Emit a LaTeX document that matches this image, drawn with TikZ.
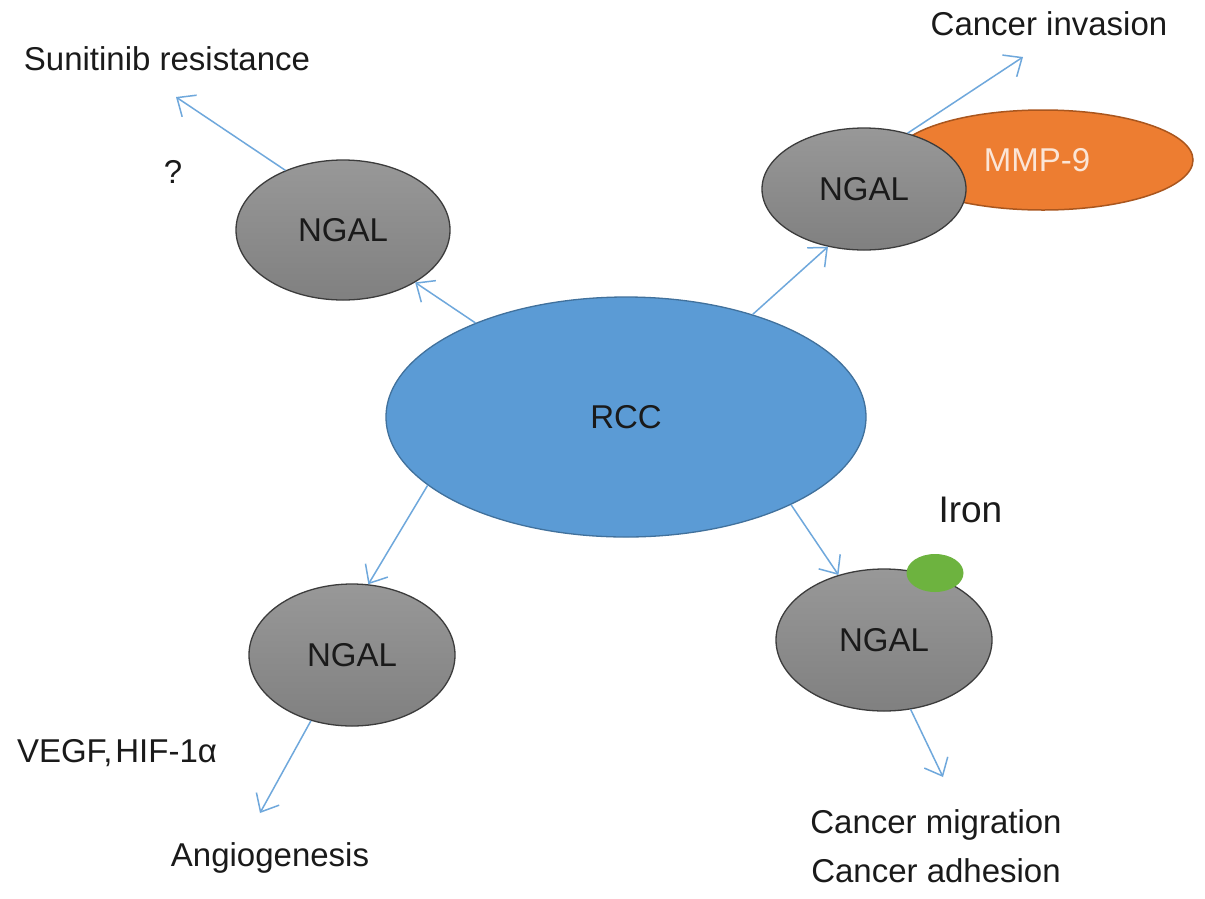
\documentclass[tikz,border=0pt]{standalone}
\usepackage{fontspec}
\setmainfont{Liberation Sans}
\usetikzlibrary{shapes.geometric,arrows.meta}
\definecolor{rccfill}{HTML}{5B9BD5}
\definecolor{rccline}{HTML}{41719C}
\definecolor{mmpfill}{HTML}{ED7D31}
\definecolor{mmpline}{HTML}{A9561E}
\definecolor{mmptext}{HTML}{FBE5D6}
\definecolor{ngaltop}{HTML}{989898}
\definecolor{ngalbot}{HTML}{808080}
\definecolor{ngalline}{HTML}{3C3C3C}
\definecolor{ironfill}{HTML}{6DB33F}
\definecolor{linkblue}{HTML}{6FA8DC}
\definecolor{txt}{HTML}{1A1A1A}
\begin{document}
\begin{tikzpicture}[x=1pt,y=-1pt,
  blob/.style={ellipse,inner sep=0pt,text=txt,font=\fontsize{33}{40}\selectfont},
  ngal/.style={blob,draw=ngalline,line width=1.3pt,top color=ngaltop,bottom color=ngalbot},
  link/.style={draw=linkblue,line width=1.5pt,-{Straight Barb[length=15pt,width=26pt,line width=1.5pt]}},
  lbl/.style={anchor=base,text=txt,font=\fontsize{33}{40}\selectfont}]
\useasboundingbox[fill=white](0,0)rectangle(1205,898);
% main bodies
\node[blob,draw=rccline,line width=1.3pt,fill=rccfill,minimum width=480pt,minimum height=240pt](rcc)at(626,417){RCC};
\node[blob,draw=mmpline,line width=1.5pt,fill=mmpfill,text=mmptext,minimum width=300pt,minimum height=100pt](mmp)at(1043,160){\hspace*{-12pt}MMP-9};
\node[ngal,minimum width=214pt,minimum height=140pt](ngala)at(343,230){NGAL};
\node[ngal,minimum width=204pt,minimum height=122pt](ngalb)at(864,189){NGAL};
\node[ngal,minimum width=206pt,minimum height=142pt](ngalc)at(352,655){NGAL};
\node[ngal,minimum width=216pt,minimum height=142pt](ngald)at(884,640){\raisebox{-5pt}{NGAL}};
\node[ellipse,fill=ironfill,minimum width=57pt,minimum height=38pt,inner sep=0pt](iron)at(935,573){};
% labels
\node[lbl](suni)at(167,70){Sunitinib resistance};
\node[lbl](qmark)at(173,183){?};
\node[lbl](inv)at(1049,35){Cancer invasion};
\node[lbl,anchor=base west,font=\fontsize{37}{44}\selectfont](ironlb)at(935,522){Iron};
\node[lbl](vegf)at(117,762){VEGF,\kern3pt HIF-1α};
\node[lbl](angio)at(270,866){Angiogenesis};
\node[lbl](mig)at(936,833){Cancer migration};
\node[lbl](adh)at(936,882){Cancer adhesion};
% arrow ends
\coordinate(suniend)at(176,97);
\coordinate(invend)at(1023,57);
\coordinate(angioend)at(260,813);
\coordinate(migend)at(943,777);
% arrows
\draw[link](rcc.148)--(ngala.-36);
\draw[link](rcc.39)--(ngalb.-122);
\draw[link](rcc.199)--(ngalc.77);
\draw[link](rcc.-28)--(ngald.125);
\draw[link](ngala.134)--(suniend);
\draw[link](ngalb.52)--(invend);
\draw[link](ngalc.238)--(angioend);
\draw[link](ngald.-69)--(migend);
\end{tikzpicture}
\end{document}
